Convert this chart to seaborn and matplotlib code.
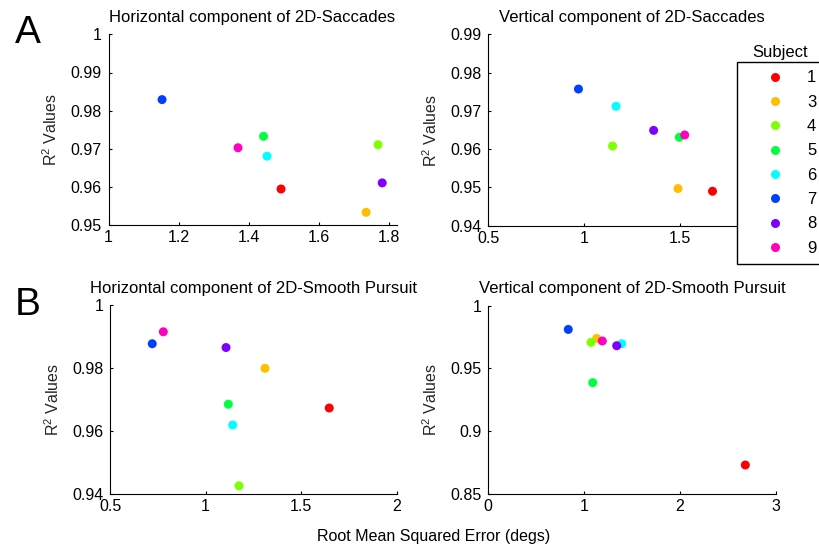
import numpy as np
import pandas as pd
import matplotlib
matplotlib.use("Agg")
import matplotlib.pyplot as plt
from matplotlib.lines import Line2D
from matplotlib.ticker import FixedLocator, FixedFormatter
import seaborn as sns

# ---------------- data ----------------
subjects = ["1", "3", "4", "5", "6", "7", "8", "9"]
subject_colors = ["#FF0000", "#FFBF00", "#80FF00", "#00FF40",
                  "#00FFFF", "#0040FF", "#8000FF", "#FF00BF"]

# Horizontal component of 2D-Saccades
sac_h_rmse = [1.493, 1.736, 1.770, 1.443, 1.453, 1.153, 1.782, 1.370]
sac_h_r2 = [0.9595, 0.9534, 0.9711, 0.9733, 0.9681, 0.9829, 0.9611, 0.9703]
# Vertical component of 2D-Saccades
sac_v_rmse = [1.669, 1.489, 1.148, 1.496, 1.166, 0.970, 1.362, 1.524]
sac_v_r2 = [0.9490, 0.9497, 0.9608, 0.9631, 0.9712, 0.9757, 0.9649, 0.9637]
# Horizontal component of 2D-Smooth Pursuit
sp_h_rmse = [1.647, 1.311, 1.175, 1.119, 1.142, 0.721, 1.107, 0.779]
sp_h_r2 = [0.9673, 0.9799, 0.9426, 0.9685, 0.9619, 0.9877, 0.9865, 0.9915]
# Vertical component of 2D-Smooth Pursuit
sp_v_rmse = [2.680, 1.130, 1.071, 1.089, 1.391, 0.834, 1.339, 1.189]
sp_v_r2 = [0.8731, 0.9740, 0.9708, 0.9387, 0.9697, 0.9811, 0.9681, 0.9719]

titles = ["Horizontal component of 2D-Saccades",
          "Vertical component of 2D-Saccades",
          "Horizontal component of 2D-Smooth Pursuit",
          "Vertical component of 2D-Smooth Pursuit"]

xticks_1 = [1, 1.2, 1.4, 1.6, 1.8]
xlabels_1 = ["1", "1.2", "1.4", "1.6", "1.8"]
yticks_1 = [0.95, 0.96, 0.97, 0.98, 0.99, 1.0]
ylabels_1 = ["0.95", "0.96", "0.97", "0.98", "0.99", "1"]

xticks_2 = [0.5, 1, 1.5, 2]
xlabels_2 = ["0.5", "1", "1.5", "2"]
yticks_2 = [0.94, 0.95, 0.96, 0.97, 0.98, 0.99]
ylabels_2 = ["0.94", "0.95", "0.96", "0.97", "0.98", "0.99"]

xticks_3 = [0.5, 1, 1.5, 2]
xlabels_3 = ["0.5", "1", "1.5", "2"]
yticks_3 = [0.94, 0.96, 0.98, 1.0]
ylabels_3 = ["0.94", "0.96", "0.98", "1"]

xticks_4 = [0, 1, 2, 3]
xlabels_4 = ["0", "1", "2", "3"]
yticks_4 = [0.85, 0.9, 0.95, 1.0]
ylabels_4 = ["0.85", "0.9", "0.95", "1"]

# ---------------- style ----------------
sns.set_style("ticks")
plt.rcParams["font.family"] = ["Liberation Sans", "DejaVu Sans"]
plt.rcParams["mathtext.default"] = "regular"
plt.rcParams["axes.linewidth"] = 0.8
plt.rcParams["axes.edgecolor"] = "black"
plt.rcParams["text.color"] = "black"
plt.rcParams["xtick.color"] = "black"
plt.rcParams["ytick.color"] = "black"

W, H = 819, 548
fig = plt.figure(figsize=(W / 100, H / 100), dpi=100)

def px_axes(x0, y0, x1, y1):
    return fig.add_axes([x0 / W, 1 - y1 / H, (x1 - x0) / W, (y1 - y0) / H])

ax1 = px_axes(108.5, 34.3, 396.5, 225.3)
ax2 = px_axes(488.3, 34.3, 776.0, 225.7)
ax3 = px_axes(110.0, 305.0, 396.7, 494.0)
ax4 = px_axes(488.3, 305.7, 776.0, 494.0)

panels = [
    (ax1, sac_h_rmse, sac_h_r2, (1.0, 1.0 + 288 / 350), (0.95, 1.0), xticks_1, xlabels_1, yticks_1, ylabels_1),
    (ax2, sac_v_rmse, sac_v_r2, (0.5, 2.0), (0.94, 0.99), xticks_2, xlabels_2, yticks_2, ylabels_2),
    (ax3, sp_h_rmse, sp_h_r2, (0.5, 2.0), (0.94, 1.0), xticks_3, xlabels_3, yticks_3, ylabels_3),
    (ax4, sp_v_rmse, sp_v_r2, (0.0, 3.0), (0.85, 1.0), xticks_4, xlabels_4, yticks_4, ylabels_4),
]

palette = dict(zip(subjects, subject_colors))
FS_TICK = 11.5
FS_TITLE = 12.0

for (ax, xs, ys, xlim, ylim, xt, xl, yt, yl), title in zip(panels, titles):
    df = pd.DataFrame({"rmse": xs, "r2": ys, "Subject": subjects})
    sns.scatterplot(data=df, x="rmse", y="r2", hue="Subject", palette=palette,
                    hue_order=subjects, s=42, linewidth=0, edgecolor="none",
                    ax=ax, legend=False, clip_on=False)
    ax.set_xlim(*xlim)
    ax.set_ylim(*ylim)
    ax.xaxis.set_major_locator(FixedLocator(xt))
    ax.xaxis.set_major_formatter(FixedFormatter(xl))
    ax.yaxis.set_major_locator(FixedLocator(yt))
    ax.yaxis.set_major_formatter(FixedFormatter(yl))
    sns.despine(ax=ax)
    ax.tick_params(direction="in", length=2.5, width=0.8, labelsize=FS_TICK)
    ax.tick_params(axis="y", pad=4.8)
    ax.tick_params(axis="x", pad=3.5)
    ax.set_xlabel("")
    ax.set_ylabel("R$^2$ Values", fontsize=11.5)
    ax.yaxis.set_label_coords(-0.168, 0.5)
    ax.set_title(title, fontsize=FS_TITLE, pad=9.0)

fig.text(434 / W, 1 - 536 / H, "Root Mean Squared Error (degs)",
         ha="center", va="center", fontsize=11.5)

fig.text(28 / W, 1 - 33 / H, "A", ha="center", va="center", fontsize=28)
fig.text(28 / W, 1 - 305 / H, "B", ha="center", va="center", fontsize=28)

handles = [Line2D([0], [0], marker="o", linestyle="none", markersize=6.5,
                  markerfacecolor=c, markeredgewidth=0) for c in subject_colors]
leg = fig.legend(handles, subjects, loc="upper left",
                 bbox_to_anchor=(737 / W, 1 - 62 / H), frameon=True,
                 fancybox=False, edgecolor="black", framealpha=1,
                 fontsize=12, borderpad=0.5, handlelength=3.6,
                 handletextpad=0.1, labelspacing=0.56, borderaxespad=0)
leg.get_frame().set_linewidth(1.0)
fig.text(780 / W, 1 - 52 / H, "Subject", ha="center", va="center", fontsize=12)

fig.savefig("out.png", dpi=100)
